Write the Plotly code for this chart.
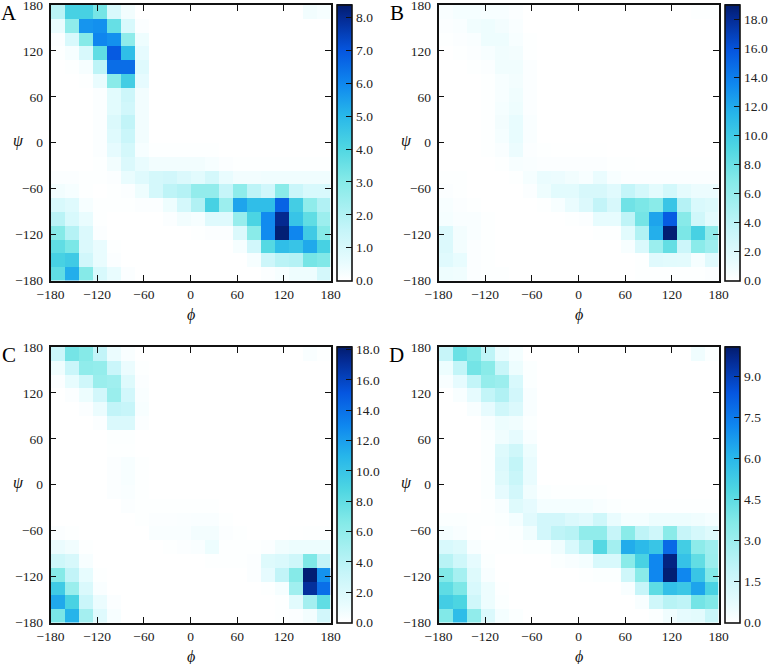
import plotly.graph_objects as go

phi_edges = [-180,-162,-144,-126,-108,-90,-72,-54,-36,-18,0,18,36,54,72,90,108,126,144,162,180]
psi_edges = [180,162,144,126,108,90,72,54,36,18,0,-18,-36,-54,-72,-90,-108,-126,-144,-162,-180]
angle_ticks = [-180,-120,-60,0,60,120,180]
panel_letters = ["A","B","C","D"]
z_tops = [8.4,19.0,18.2,10.1]
z_steps = [1.0,2.0,2.0,1.5]

panel_a = [
[1.8,4.2,4.2,3.3,1.0,0.3,0,0,0,0,0,0,0,0,0,0,0,0,0.3,0.2],
[0.5,2.8,5.7,5.8,3.6,1.0,0.1,0,0,0,0,0,0,0,0,0,0,0,0,0],
[0.1,1.0,3.0,6.0,5.8,2.8,0.4,0,0,0,0,0,0,0,0,0,0,0,0,0],
[0.05,0.2,1.0,3.7,6.9,4.8,0.6,0,0,0,0,0,0,0,0,0,0,0,0,0],
[0,0.05,0.2,1.7,6.5,6.5,0.8,0,0,0,0,0,0,0,0,0,0,0,0,0],
[0,0,0.05,0.5,2.9,4.3,0.6,0,0,0,0,0,0,0,0,0,0,0,0,0],
[0,0,0,0.1,0.7,1.3,0.3,0,0,0,0,0,0,0,0,0,0,0,0,0],
[0,0,0,0.1,0.7,1.2,0.3,0,0,0,0,0,0,0,0,0,0,0,0,0],
[0,0,0,0.1,0.9,1.6,0.3,0,0,0,0,0,0,0,0,0,0,0,0,0],
[0,0,0,0.1,0.8,1.4,0.3,0,0,0,0,0,0,0,0,0,0,0,0,0],
[0,0,0,0.1,0.6,1.1,0.2,0.05,0.05,0.05,0.05,0.05,0,0,0,0,0,0,0,0],
[0,0,0,0.05,0.3,0.9,0.5,0.3,0.3,0.3,0.3,0.2,0.1,0.05,0.05,0.05,0.05,0.05,0.05,0.05],
[0.1,0.1,0.05,0.05,0.1,0.5,0.8,1.1,1.2,0.9,0.7,1.1,0.5,0.3,0.3,0.35,0.35,0.35,0.35,0.35],
[0.3,0.2,0.05,0,0.05,0.1,0.4,1.1,1.7,1.9,2.7,2.7,1.5,2.8,1.7,1.2,2.9,1.4,1.0,1.0],
[1.0,0.8,0.2,0.05,0.05,0.05,0.1,0.1,0.4,1.1,2.0,4.2,2.5,5.4,4.8,4.8,6.7,4.3,2.8,2.0],
[1.8,1.0,0.5,0.05,0,0,0,0,0.1,0.3,0.2,0.8,0.8,2.6,4.1,5.9,8.0,4.6,3.7,2.5],
[3.0,1.9,0.9,0.1,0,0,0,0,0,0,0.05,0.1,0.1,0.9,2.9,5.9,8.3,6.0,4.4,3.0],
[3.7,3.2,0.9,0.5,0.05,0,0,0,0,0,0,0,0,0.2,1.2,3.9,4.8,4.6,5.3,4.2],
[4.2,4.4,1.2,0.5,0.1,0,0,0,0,0,0,0,0,0,0.2,1.3,1.8,1.9,3.3,3.1],
[3.7,5.2,3.0,1.0,0.5,0.1,0,0,0,0,0,0,0,0,0,0.1,0.2,0.4,0.4,1.1],
]

panel_b = [
[0.3,0.5,0.5,0.4,0.4,0.2,0,0,0,0,0,0,0,0,0,0,0,0,0.1,0.1],
[0.2,0.3,0.7,0.9,0.6,0.3,0,0,0,0,0,0,0,0,0,0,0,0,0,0],
[0.1,0.2,0.3,0.9,0.9,0.4,0.1,0,0,0,0,0,0,0,0,0,0,0,0,0],
[0,0.1,0.2,0.4,0.7,0.6,0.1,0,0,0,0,0,0,0,0,0,0,0,0,0],
[0,0,0.1,0.2,0.7,0.7,0.2,0,0,0,0,0,0,0,0,0,0,0,0,0],
[0,0,0,0.1,0.4,0.6,0.2,0,0,0,0,0,0,0,0,0,0,0,0,0],
[0,0,0,0.1,0.4,0.8,0.2,0,0,0,0,0,0,0,0,0,0,0,0,0],
[0,0,0,0.1,0.5,0.9,0.2,0,0,0,0,0,0,0,0,0,0,0,0,0],
[0,0,0,0.1,0.6,1.2,0.3,0,0,0,0,0,0,0,0,0,0,0,0,0],
[0,0,0,0.1,0.5,1.2,0.3,0,0,0,0,0,0,0,0,0,0,0,0,0],
[0,0,0,0.1,0.3,1.0,0.2,0.1,0.05,0.05,0.05,0.05,0,0,0,0,0,0,0,0],
[0,0,0,0,0.1,0.4,0.3,0.2,0.2,0.2,0.2,0.2,0.1,0.1,0.05,0.05,0.05,0.05,0.05,0.05],
[0.1,0.1,0,0,0,0.1,0.5,1.1,1.0,0.7,0.4,1.1,0.4,0.2,0.2,0.2,0.2,0.2,0.2,0.2],
[0.2,0.1,0,0,0,0,0.2,0.9,1.6,1.6,2.3,2.3,1.7,3.5,2.5,1.5,2.6,1.4,1.0,1.0],
[0.4,0.2,0.1,0,0,0,0,0.1,0.4,1.1,2.0,3.6,2.3,7.7,7.2,6.6,10.3,4.3,2.2,1.9],
[0.5,0.3,0.3,0.1,0,0,0,0,0,0.1,0.2,1.3,1.3,3.8,7.5,12.2,15.5,6.7,2.8,1.5],
[2.0,0.6,0.3,0.1,0,0,0,0,0,0,0,0.1,0.1,1.6,4.5,11.7,18.8,7.2,9.5,6.2],
[2.0,0.6,0.2,0.1,0,0,0,0,0,0,0,0,0,0.4,2.1,5.7,8.2,3.0,6.5,5.5],
[1.7,1.2,0.2,0.1,0,0,0,0,0,0,0,0,0,0,0.1,1.7,1.6,1.5,0.5,1.7],
[0.9,0.8,0.2,0.1,0.1,0,0,0,0,0,0,0,0,0,0.1,0.1,0.1,0.1,0.1,0.2],
]

panel_c = [
[3.0,7.2,6.5,3.5,1.0,0.3,0,0,0,0,0,0,0,0,0,0,0,0,0.3,0.1],
[0.8,3.0,6.0,5.8,3.0,1.0,0.1,0,0,0,0,0,0,0,0,0,0,0,0,0],
[0.2,1.2,2.7,5.5,5.2,1.8,0.2,0,0,0,0,0,0,0,0,0,0,0,0,0],
[0,0.2,0.9,2.5,5.5,2.5,0.3,0,0,0,0,0,0,0,0,0,0,0,0,0],
[0,0,0.2,1.0,3.5,3.2,0.4,0,0,0,0,0,0,0,0,0,0,0,0,0],
[0,0,0,0.2,2.0,2.0,0.2,0,0,0,0,0,0,0,0,0,0,0,0,0],
[0,0,0,0,0.15,0.15,0,0,0,0,0,0,0,0,0,0,0,0,0,0],
[0,0,0,0,0.1,0.1,0,0,0,0,0,0,0,0,0,0,0,0,0,0],
[0,0,0,0,0.2,0.4,0.1,0,0,0,0,0,0,0,0,0,0,0,0,0],
[0,0,0,0,0.2,0.4,0.1,0,0,0,0,0,0,0,0,0,0,0,0,0],
[0,0,0,0,0.2,0.3,0.1,0,0,0,0,0,0,0,0,0,0,0,0,0],
[0,0,0,0,0,0.2,0.1,0.1,0.1,0.1,0.1,0.1,0,0,0,0,0,0,0,0],
[0,0,0,0,0,0,0.1,0.2,0.2,0.25,0.3,0.3,0.1,0,0,0,0,0,0,0],
[0.2,0.1,0,0,0,0,0,0.3,0.3,0.3,0.6,0.6,0.2,0.1,0,0,0,0.05,0.1,0.1],
[1.0,0.7,0.1,0,0,0,0,0,0.1,0.2,0.3,0.9,0.1,0.1,0.1,0.2,0.7,0.9,0.9,0.9],
[2.8,2.2,0.4,0,0,0,0,0,0,0,0,0.1,0.1,0.1,0.2,1.8,2.0,2.7,6.8,3.5],
[6.5,3.5,1.2,0.1,0,0,0,0,0,0,0,0,0,0,0.2,1.3,3.5,6.5,18.0,12.5],
[9.5,5.5,2.0,0.3,0,0,0,0,0,0,0,0,0,0,0,0.1,0.5,5.2,17.0,14.0],
[11.5,9.0,3.0,1.0,0.2,0,0,0,0,0,0,0,0,0,0,0,0.1,1.5,5.0,8.0],
[7.0,11.0,5.0,1.7,0.4,0,0,0,0,0,0,0,0,0,0,0,0.1,0.2,0.6,2.5],
]

panel_d = [
[1.8,4.2,3.7,2.0,0.6,0.3,0,0,0,0,0,0,0,0,0,0,0,0,0.4,0.1],
[0.5,1.9,4.0,3.5,1.7,0.5,0.1,0,0,0,0,0,0,0,0,0,0,0,0,0],
[0.2,0.7,1.9,3.2,3.0,1.2,0.1,0,0,0,0,0,0,0,0,0,0,0,0,0],
[0,0.2,0.7,1.9,2.4,1.4,0.2,0,0,0,0,0,0,0,0,0,0,0,0,0],
[0,0,0.2,0.7,1.5,1.1,0.2,0,0,0,0,0,0,0,0,0,0,0,0,0],
[0,0,0,0.2,0.5,0.4,0.1,0,0,0,0,0,0,0,0,0,0,0,0,0],
[0,0,0,0.1,0.4,0.7,0.2,0,0,0,0,0,0,0,0,0,0,0,0,0],
[0,0,0,0.1,1.0,1.5,0.5,0,0,0,0,0,0,0,0,0,0,0,0,0],
[0,0,0,0.1,1.1,1.9,0.6,0,0,0,0,0,0,0,0,0,0,0,0,0],
[0,0,0,0.1,1.0,1.7,0.6,0,0,0,0,0,0,0,0,0,0,0,0,0],
[0,0,0,0.1,0.7,1.4,0.4,0.1,0.05,0.05,0.05,0.05,0,0,0,0,0,0,0,0],
[0,0,0,0.05,0.2,1.0,0.7,0.3,0.3,0.3,0.3,0.2,0.1,0.05,0.05,0.05,0.05,0.05,0.05,0.05],
[0.1,0.1,0.05,0.05,0.1,0.3,0.9,1.4,1.4,1.1,0.9,1.5,0.6,0.3,0.3,0.5,0.5,0.5,0.4,0.3],
[0.3,0.2,0.05,0,0.05,0.1,0.4,1.4,2.0,2.2,3.3,3.3,1.8,3.5,2.0,1.5,3.5,1.8,1.3,1.0],
[1.2,1.0,0.2,0.05,0.05,0.05,0.1,0.1,0.4,1.2,2.3,4.7,2.8,6.3,5.9,5.5,7.9,5.2,3.4,2.9],
[2.2,1.5,0.7,0.1,0,0,0,0,0.1,0.2,0.3,1.2,1.2,3.5,5.0,7.2,9.8,5.6,4.4,3.0],
[3.7,2.7,1.0,0.2,0,0,0,0,0,0,0.05,0.1,0.1,1.5,3.5,7.2,10.0,7.2,5.5,3.7],
[4.5,3.8,1.2,0.5,0.05,0,0,0,0,0,0,0,0,0.2,1.8,4.5,5.7,5.4,6.5,5.0],
[5.2,4.9,1.5,0.5,0.1,0,0,0,0,0,0,0,0,0,0.2,1.5,2.2,2.0,4.0,3.7],
[3.7,5.8,3.3,1.1,0.3,0.1,0,0,0,0,0,0,0,0,0,0.1,0.4,0.7,0.8,1.7],
]

panels = [panel_a, panel_b, panel_c, panel_d]

W, H = 770, 664
FONT = "Liberation Serif"
SCALE = [
    [0.00, "#ffffff"], [0.06, "#e9fcfe"], [0.18, "#c6f5f9"], [0.36, "#85eae8"],
    [0.48, "#4ed6e2"], [0.60, "#27b6ea"], [0.71, "#0f88ef"], [0.83, "#0556e0"],
    [0.95, "#042a92"], [1.00, "#021b6b"],
]
# pixel boxes: left, right, top, bottom, colourbar left, colourbar right
BOXES = [
    (50.5, 330.5, 5, 280.5, 336.5, 351),
    (438.5, 718.5, 5, 280.5, 724.5, 739),
    (50.5, 330.5, 347, 622.5, 336.5, 351),
    (438.5, 718.5, 347, 622.5, 724.5, 739),
]

fig = go.Figure()
layout = dict(
    width=W, height=H, margin=dict(l=0, r=0, t=0, b=0, autoexpand=False),
    paper_bgcolor="white", plot_bgcolor="white",
    font=dict(family=FONT, size=13.5, color="#111111"), showlegend=False,
    annotations=[],
)
for i, (z, box) in enumerate(zip(panels, BOXES)):
    l, r, t, b, cl, cr = box
    s = "" if i == 0 else str(i + 1)
    fig.add_trace(go.Heatmap(
        x=phi_edges, y=psi_edges, z=z, xaxis="x" + s, yaxis="y" + s,
        zmin=0, zmax=z_tops[i], colorscale=SCALE, hoverongaps=False,
        colorbar=dict(
            x=cl / W, xanchor="left", xpad=0, ypad=0,
            y=1 - b / H, yanchor="bottom",
            len=(b - t) / H, lenmode="fraction",
            thickness=cr - cl, thicknessmode="pixels",
            outlinecolor="#111111", outlinewidth=1.6,
            ticks="inside", ticklen=6, tickwidth=1, tickcolor="#111111",
            tick0=0, dtick=z_steps[i], tickformat=".1f",
            ticklabeloverflow="allow",
            tickfont=dict(family=FONT, size=13.5, color="#222222"),
        ),
    ))
    common = dict(
        range=[-180, 180], tickvals=angle_ticks, ticks="inside", ticklen=6,
        tickwidth=1, tickcolor="#111111", showgrid=False, zeroline=False,
        showline=True, linecolor="#111111", linewidth=1.6, mirror="ticks",
        ticklabeloverflow="allow",
        tickfont=dict(family=FONT, size=13.5, color="#222222"),
    )
    layout["xaxis" + s] = dict(common, domain=[l / W, r / W], anchor="y" + s)
    layout["yaxis" + s] = dict(common, domain=[1 - b / H, 1 - t / H], anchor="x" + s, ticklabelstandoff=3)
    layout["annotations"] += [
        dict(text=panel_letters[i], xref="paper", yref="paper", x=(l - 50 + 8) / W,
             y=1 - (t + 8) / H, xanchor="center", yanchor="middle", showarrow=False,
             font=dict(family=FONT, size=21, color="#000000")),
        dict(text="<i>ϕ</i>", xref="paper", yref="paper", x=(l + r) / 2 / W,
             y=1 - (b + 34) / H, xanchor="center", yanchor="middle", showarrow=False,
             font=dict(family=FONT, size=16, color="#111111")),
        dict(text="<i>ψ</i>", xref="paper", yref="paper", x=(l - 32) / W,
             y=1 - ((t + b) / 2 - 2) / H, xanchor="center", yanchor="middle", showarrow=False,
             font=dict(family=FONT, size=16, color="#111111")),
    ]
fig.update_layout(**layout)
fig.write_html("out.html", config={"displayModeBar": False},
               post_script="document.body.style.margin='0';")
